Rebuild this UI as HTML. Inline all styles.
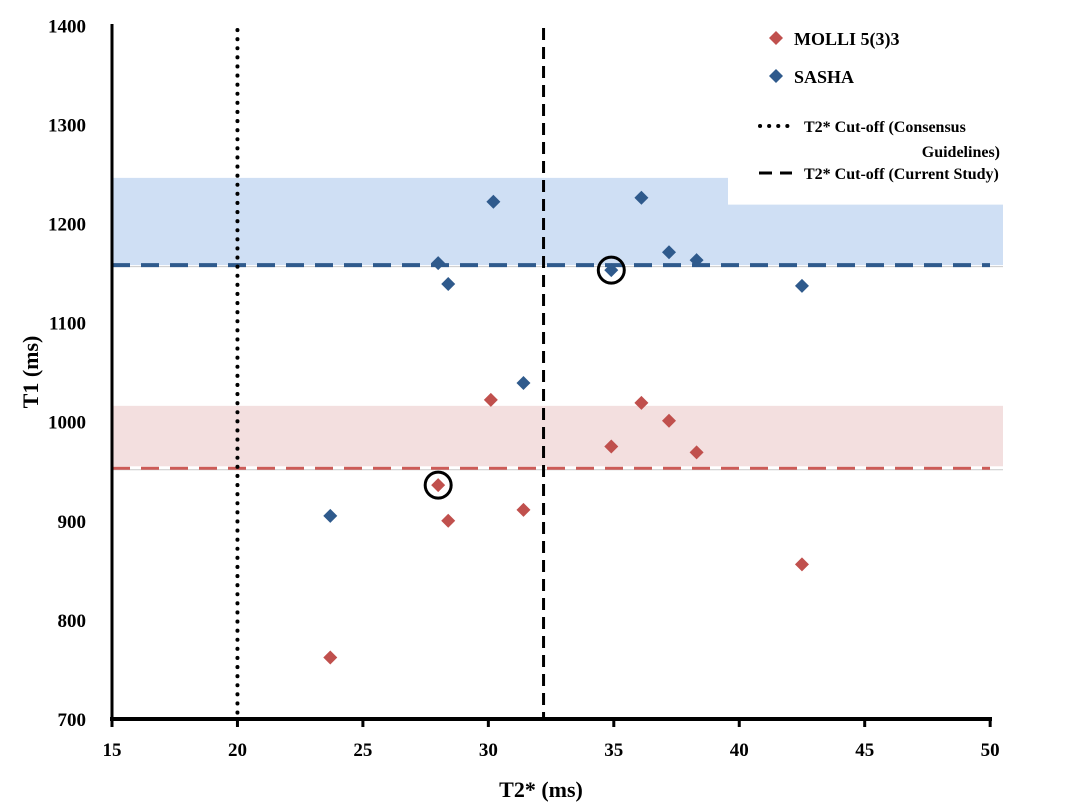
<!DOCTYPE html>
<html><head><meta charset="utf-8"><style>
body{margin:0;background:#fff}
svg text{font-family:"Liberation Serif",serif;font-weight:bold;fill:#000}
</style></head><body>
<svg width="1070" height="806" viewBox="0 0 1070 806" xmlns="http://www.w3.org/2000/svg">
<g id="g"></g>
</svg>
<script>
const xTicks=[15,20,25,30,35,40,45,50];
const yTicks=[700,800,900,1000,1100,1200,1300,1400];
const sashaT2=[23.7,28.0,28.4,30.2,31.4,34.9,36.1,37.2,38.3,42.5];
const sashaT1=[905,1160,1139,1222,1039,1153,1226,1171,1163,1137];
const molliT2=[23.7,28.0,28.4,30.1,31.4,34.9,36.1,37.2,38.3,42.5];
const molliT1=[762,936,900,1022,911,975,1019,1001,969,856];
const circledT2=[34.9,28.0];
const circledT1=[1153,936];
const sashaMean=[1158];
const molliMean=[953];
const sashaBand=[1158,1246,1219];
const molliBand=[955,1016];
const cutoffs=[20,32.2];

const X=v=>112+(v-15)*25.09;
const Y=v=>719-(v-700)*0.991;
const g=document.getElementById('g');
function mk(tag,attrs,name,txt){const e=document.createElementNS('http://www.w3.org/2000/svg',tag);for(const k in attrs)e.setAttribute(k,attrs[k]);


if(txt!==undefined)e.textContent=txt;g.appendChild(e);return e;}

// bands
mk('path',{d:`M${X(15)},${Y(sashaBand[1])}H728V${Y(sashaBand[2])}H1003V${Y(sashaBand[0])}H${X(15)}Z`,fill:'#cfdff4'},'sasha-normal-range');
mk('rect',{x:X(15),y:Y(molliBand[1]),width:1003-X(15),height:Y(molliBand[0])-Y(molliBand[1]),fill:'#f3dfdf'},'molli-normal-range');
mk('line',{x1:X(15),x2:1003,y1:Y(sashaMean[0])+1.5,y2:Y(sashaMean[0])+1.5,stroke:'#c9c9c9','stroke-width':1},'sasha-band-edge');
mk('line',{x1:X(15),x2:1003,y1:Y(molliMean[0])+1.5,y2:Y(molliMean[0])+1.5,stroke:'#c9c9c9','stroke-width':1},'molli-band-edge');
mk('line',{x1:X(15),x2:990,y1:Y(sashaMean[0]),y2:Y(sashaMean[0]),stroke:'#2f5a8c','stroke-width':4,'stroke-dasharray':'18,11'},'sasha-mean-line');
mk('line',{x1:X(15),x2:990,y1:Y(molliMean[0]),y2:Y(molliMean[0]),stroke:'#cc5b57','stroke-width':3,'stroke-dasharray':'18,11'},'molli-mean-line');
// cutoffs
mk('line',{x1:X(cutoffs[0]),x2:X(cutoffs[0]),y1:30,y2:719,stroke:'#000','stroke-width':4,'stroke-dasharray':'0.1,9','stroke-linecap':'round'},'consensus-cutoff-line');
mk('line',{x1:X(cutoffs[1]),x2:X(cutoffs[1]),y1:28,y2:719,stroke:'#000','stroke-width':3,'stroke-dasharray':'12,7'},'current-study-cutoff-line');
// axes
mk('line',{x1:112,x2:112,y1:24,y2:721,stroke:'#000','stroke-width':3},'y-axis-line');
mk('line',{x1:110,x2:992,y1:719,y2:719,stroke:'#000','stroke-width':4},'x-axis-line');
xTicks.forEach(t=>{mk('line',{x1:X(t),x2:X(t),y1:719,y2:727,stroke:'#000','stroke-width':3},'x-tick');
mk('text',{x:X(t),y:756,'text-anchor':'middle','font-size':19},'x-tick-label',t);});
yTicks.forEach(t=>{mk('text',{x:86,y:Y(t)+7,'text-anchor':'end','font-size':19},'y-tick-label',t);});
mk('text',{x:541,y:797,'text-anchor':'middle','font-size':22},'x-axis-title','T2* (ms)');
mk('text',{x:0,y:0,transform:'translate(38,372) rotate(-90)','text-anchor':'middle','font-size':22},'y-axis-title','T1 (ms)');
// points
const dia=(cx,cy,c,n)=>mk('path',{d:`M${cx},${cy-7}L${cx+7},${cy}L${cx},${cy+7}L${cx-7},${cy}Z`,fill:c},n);
sashaT2.forEach((v,i)=>dia(X(v),Y(sashaT1[i]),'#2f5a8c','sasha-point'));
molliT2.forEach((v,i)=>dia(X(v),Y(molliT1[i]),'#c0504d','molli-point'));
circledT2.forEach((v,i)=>mk('circle',{cx:X(v),cy:Y(circledT1[i]),r:13,fill:'none',stroke:'#000','stroke-width':3},'highlight-circle'));
// legend
dia(776,38,'#c0504d','legend-molli-marker');
mk('text',{x:794,y:45,'font-size':18},'legend-molli-label','MOLLI 5(3)3');
dia(776,76,'#2f5a8c','legend-sasha-marker');
mk('text',{x:794,y:83,'font-size':18},'legend-sasha-label','SASHA');
mk('line',{x1:760,x2:790,y1:126,y2:126,stroke:'#000','stroke-width':4,'stroke-dasharray':'0.1,9','stroke-linecap':'round'},'legend-consensus-marker');
mk('text',{x:804,y:132,'font-size':16},'legend-consensus-label','T2* Cut-off (Consensus');
mk('text',{x:1000,y:157,'text-anchor':'end','font-size':16},'legend-consensus-label-2','Guidelines)');
mk('line',{x1:759,x2:792,y1:173,y2:173,stroke:'#000','stroke-width':3,'stroke-dasharray':'13,8'},'legend-current-marker');
mk('text',{x:804,y:179,'font-size':16},'legend-current-label','T2* Cut-off (Current Study)');
</script>
</body></html>
